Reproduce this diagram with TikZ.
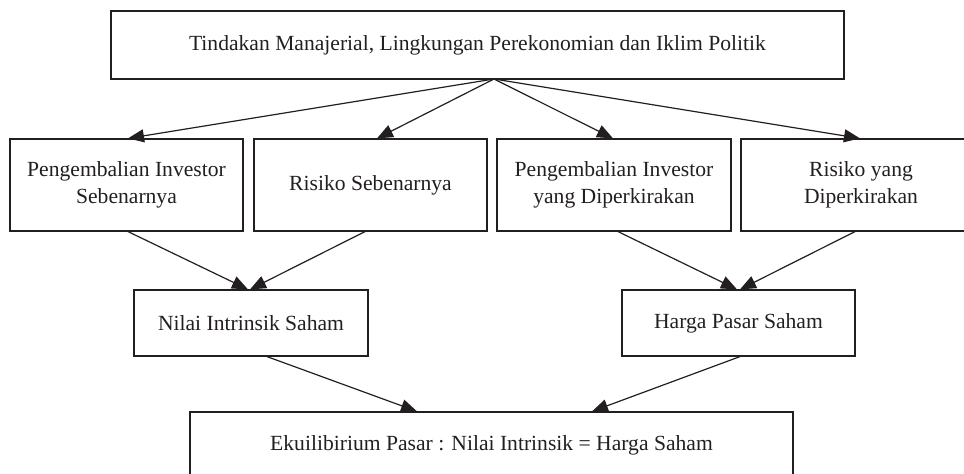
\documentclass[tikz,border=0pt]{standalone}
\usepackage{fontspec}
\setmainfont{Liberation Serif}
\usetikzlibrary{arrows.meta}
\definecolor{tinte}{HTML}{231F20}
\begin{document}
\begin{tikzpicture}[x=0.5pt, y=-0.5pt,
	kasten/.style={draw=tinte, line width=0.6pt, align=center, text=tinte, inner sep=0pt, font=\fontsize{10.8}{13.5}\selectfont},
	pfeil/.style={draw=tinte, line width=0.6pt, -{Triangle[length=8pt, width=6.5pt]}}]
	\clip (0,0) rectangle (964,474);%Rahmen
	
	\node[kasten, minimum width=366.5pt, minimum height=34pt] (top) at (477.5, 45) {Tindakan Manajerial, Lingkungan Perekonomian dan Iklim Politik};
	\coordinate (tp) at (494, 79);%Ausgangspunkt
	
	\node[kasten, minimum width=116.5pt, minimum height=46pt] (b1) at (126.5, 185) {Pengembalian Investor\\Sebenarnya};
	\node[kasten, minimum width=116.5pt, minimum height=46pt] (b2) at (370.5, 185) {Risiko Sebenarnya};
	\node[kasten, minimum width=117pt, minimum height=46pt] (b3) at (614, 185) {Pengembalian Investor\\yang Diperkirakan};
	\node[kasten, minimum width=120pt, minimum height=46pt] (b4) at (861, 185) {Risiko yang\\Diperkirakan};
	
	\node[kasten, minimum width=117pt, minimum height=33pt] (nilai) at (251, 323) {Nilai Intrinsik Saham};
	\node[kasten, minimum width=116.5pt, minimum height=33pt] (harga) at (738.5, 323) {Harga Pasar Saham};
	
	\node[kasten, minimum width=301.5pt, minimum height=33pt] (ekui) at (491.5, 445) {Ekuilibirium Pasar : Nilai Intrinsik = Harga Saham};
	
	%Pfeile oben
	\draw[pfeil] (tp) -- ([xshift=0.75pt]b1.north);
	\draw[pfeil] (tp) -- ([xshift=3.25pt]b2.north);
	\draw[pfeil] (tp) -- ([xshift=-0.5pt]b3.north);
	\draw[pfeil] (tp) -- ([xshift=-0.5pt]b4.north);
	
	%Pfeile Mitte
	\draw[pfeil] ([xshift=0.75pt]b1.south) -- ([xshift=-1.5pt]nilai.north);
	\draw[pfeil] ([xshift=-2.75pt]b2.south) -- ([xshift=-0.5pt]nilai.north);
	\draw[pfeil] ([xshift=2pt]b3.south) -- ([xshift=-0.75pt]harga.north);
	\draw[pfeil] ([xshift=-3pt]b4.south) -- ([xshift=0.75pt]harga.north);
	
	%Pfeile unten
	\draw[pfeil] ([xshift=8pt]nilai.south) -- ([xshift=-37.25pt]ekui.north);
	\draw[pfeil] ([xshift=0.75pt]harga.south) -- ([xshift=50.25pt]ekui.north);
\end{tikzpicture}
\end{document}
